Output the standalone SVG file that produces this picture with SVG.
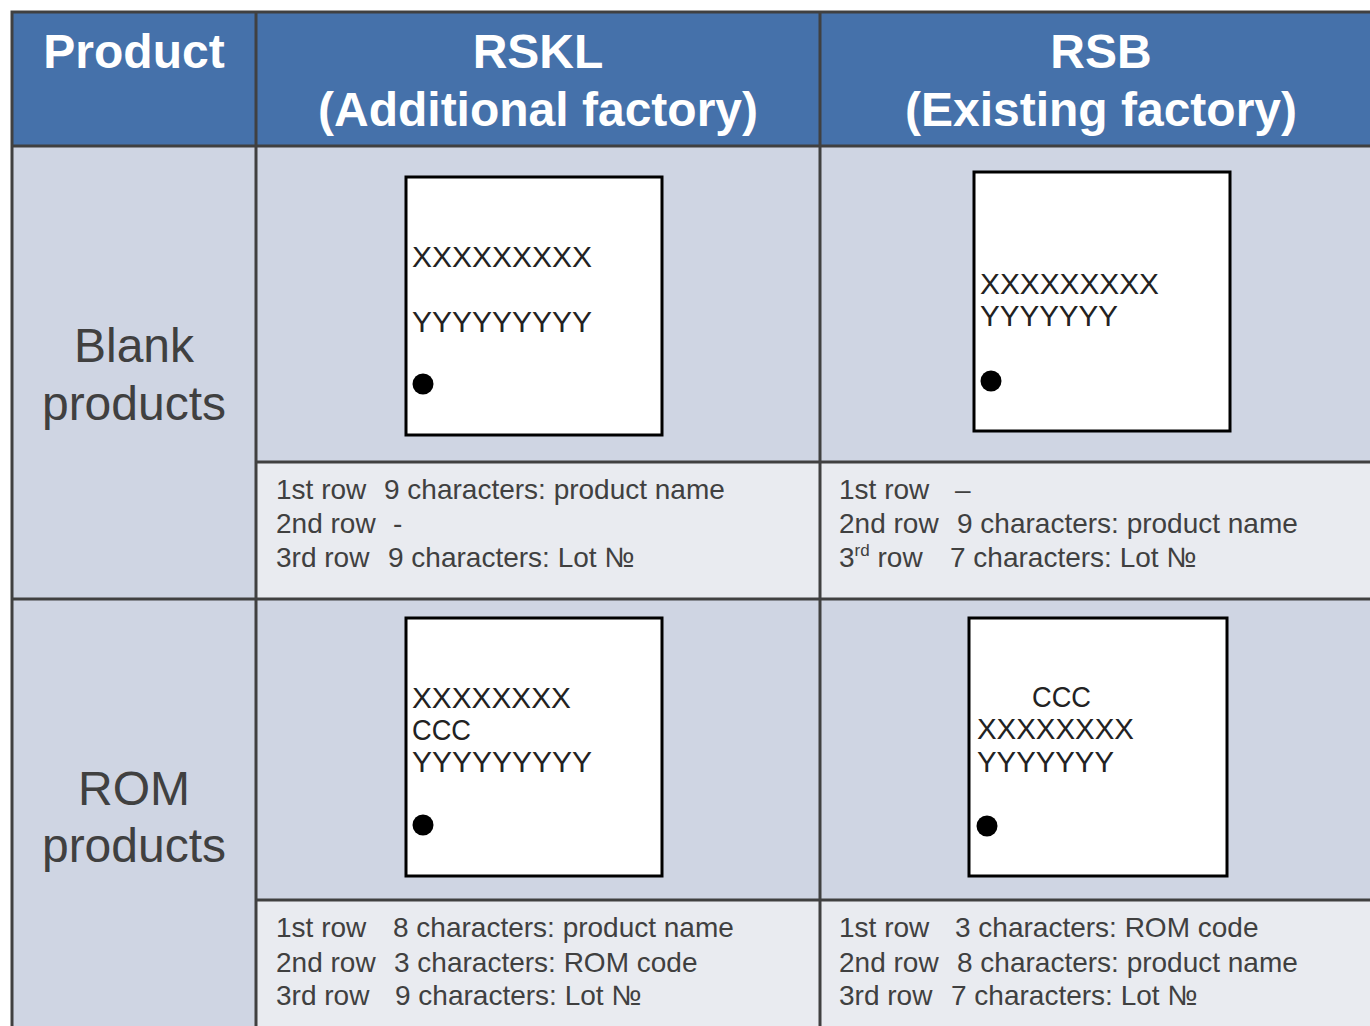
<svg xmlns="http://www.w3.org/2000/svg" width="1370" height="1026" viewBox="0 0 1370 1026">
<style>
.hdr{fill:#4571aa}
.cell{fill:#cfd5e3}
.desc{fill:#e9ebf0}
.grid{stroke:#404040;stroke-width:3;fill:none}
.chip{fill:#fff;stroke:#000;stroke-width:3}
.ht{font-family:"Liberation Sans",Arial,sans-serif;font-weight:bold;font-size:48px;fill:#fff;text-anchor:middle}
.rl{font-family:"Liberation Sans",Arial,sans-serif;font-size:48px;fill:#404040;text-anchor:middle}
.ct{font-family:"Liberation Sans",Arial,sans-serif;font-size:29px;fill:#222}
.dt{font-family:"Liberation Sans",Arial,sans-serif;font-size:28px;fill:#404040}
.sup{font-size:17px}
</style>
<rect width="1370" height="1026" fill="#fff"/>
<g id="header">
<rect class="hdr" x="12" y="12" width="1360" height="134"/>
<text class="ht" x="134" y="68">Product</text>
<text class="ht" x="538" y="68">RSKL</text>
<text class="ht" x="538" y="126">(Additional factory)</text>
<text class="ht" x="1101" y="68">RSB</text>
<text class="ht" x="1101" y="126">(Existing factory)</text>
</g>
<g id="row-blank">
<rect class="cell" x="12" y="146" width="1360" height="453"/>
<rect class="desc" x="256" y="462" width="1116" height="137"/>
<text class="rl" x="134" y="362">Blank</text>
<text class="rl" x="134" y="420">products</text>
</g>
<g id="row-rom">
<rect class="cell" x="12" y="599" width="1360" height="430"/>
<rect class="desc" x="256" y="900" width="1116" height="130"/>
<text class="rl" x="134" y="805">ROM</text>
<text class="rl" x="134" y="862">products</text>
</g>
<g id="chip-rskl-blank">
<rect class="chip" x="406" y="177" width="256" height="258"/>
<text class="ct" x="412" y="267" textLength="180" lengthAdjust="spacingAndGlyphs">XXXXXXXXX</text>
<text class="ct" x="412" y="332" textLength="180" lengthAdjust="spacingAndGlyphs">YYYYYYYYY</text>
<circle cx="423" cy="384" r="10.5" fill="#000"/>
</g>
<g id="chip-rsb-blank">
<rect class="chip" x="974" y="172" width="256" height="259"/>
<text class="ct" x="980" y="294" textLength="179" lengthAdjust="spacingAndGlyphs">XXXXXXXXX</text>
<text class="ct" x="980" y="326" textLength="138" lengthAdjust="spacingAndGlyphs">YYYYYYY</text>
<circle cx="991" cy="381" r="10.5" fill="#000"/>
</g>
<g id="chip-rskl-rom">
<rect class="chip" x="406" y="618" width="256" height="258"/>
<text class="ct" x="412" y="708" textLength="159" lengthAdjust="spacingAndGlyphs">XXXXXXXX</text>
<text class="ct" x="412" y="740" textLength="59" lengthAdjust="spacingAndGlyphs">CCC</text>
<text class="ct" x="412" y="772" textLength="180" lengthAdjust="spacingAndGlyphs">YYYYYYYYY</text>
<circle cx="423" cy="825" r="10.5" fill="#000"/>
</g>
<g id="chip-rsb-rom">
<rect class="chip" x="969" y="618" width="258" height="258"/>
<text class="ct" x="1032" y="707" textLength="59" lengthAdjust="spacingAndGlyphs">CCC</text>
<text class="ct" x="977" y="739" textLength="157" lengthAdjust="spacingAndGlyphs">XXXXXXXX</text>
<text class="ct" x="977" y="772" textLength="137" lengthAdjust="spacingAndGlyphs">YYYYYYY</text>
<circle cx="987" cy="826" r="10.5" fill="#000"/>
</g>
<g id="desc-rskl-blank" class="dt">
<text x="276" y="499">1st row</text><text x="384" y="499">9 characters: product name</text>
<text x="276" y="533">2nd row</text><text x="393" y="533">-</text>
<text x="276" y="567">3rd row</text><text x="388" y="567">9 characters: Lot №</text>
</g>
<g id="desc-rsb-blank" class="dt">
<text x="839" y="499">1st row</text><text x="955" y="499">–</text>
<text x="839" y="533">2nd row</text><text x="957" y="533">9 characters: product name</text>
<text x="839" y="567">3<tspan class="sup" dy="-11">rd</tspan><tspan dy="11"> row</tspan></text><text x="950" y="567">7 characters: Lot №</text>
</g>
<g id="desc-rskl-rom" class="dt">
<text x="276" y="937">1st row</text><text x="393" y="937">8 characters: product name</text>
<text x="276" y="972">2nd row</text><text x="394" y="972">3 characters: ROM code</text>
<text x="276" y="1005">3rd row</text><text x="395" y="1005">9 characters: Lot №</text>
</g>
<g id="desc-rsb-rom" class="dt">
<text x="839" y="937">1st row</text><text x="955" y="937">3 characters: ROM code</text>
<text x="839" y="972">2nd row</text><text x="957" y="972">8 characters: product name</text>
<text x="839" y="1005">3rd row</text><text x="951" y="1005">7 characters: Lot №</text>
</g>
<g id="grid" class="grid">
<path d="M12 1030V12H1372"/>
<path d="M12 146H1372"/>
<path d="M12 599H1372"/>
<path d="M256 462H1372"/>
<path d="M256 900H1372"/>
<path d="M256 12V1030"/>
<path d="M820 12V1030"/>
</g>
</svg>
